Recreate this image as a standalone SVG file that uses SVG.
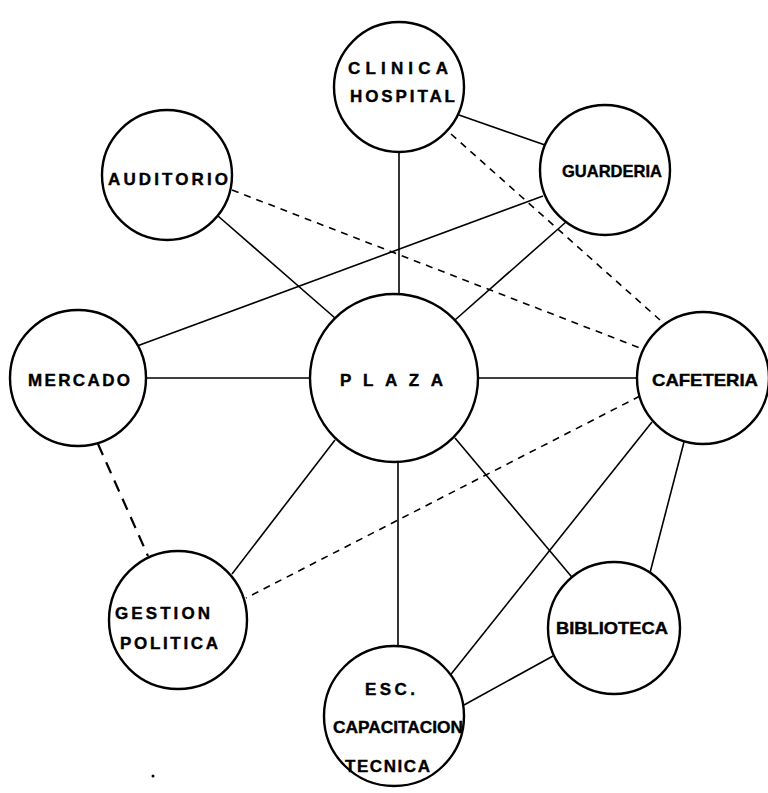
<svg xmlns="http://www.w3.org/2000/svg" width="768" height="793" viewBox="0 0 768 793">
<style>
.n{fill:#fff;stroke:#000;stroke-width:2.4}
.t{font-family:"Liberation Sans",Arial,sans-serif;font-weight:bold;font-size:17px;fill:#000;stroke:#000;stroke-width:0.4}
.s{stroke:#000;stroke-width:1.6;fill:none}
.d{stroke:#000;stroke-width:1.6;fill:none;stroke-dasharray:7 6}
.d2{stroke:#000;stroke-width:2.2;fill:none;stroke-dasharray:12 8}
</style>
<rect width="768" height="793" fill="#fff"/>
<g id="connectors">
<line class="s" x1="399" y1="152" x2="399" y2="295"/>
<line class="s" x1="459" y1="115" x2="545" y2="145"/>
<line class="s" x1="218" y1="216" x2="335" y2="318"/>
<line class="s" x1="543" y1="196" x2="137" y2="346"/>
<line class="s" x1="566" y1="222" x2="455" y2="320"/>
<line class="s" x1="146" y1="378" x2="310" y2="378"/>
<line class="s" x1="478" y1="378" x2="638" y2="378"/>
<line class="s" x1="335" y1="440" x2="232" y2="574"/>
<line class="s" x1="455" y1="438" x2="576" y2="582"/>
<line class="s" x1="398" y1="462" x2="398" y2="648"/>
<line class="s" x1="652" y1="422" x2="440" y2="688"/>
<line class="s" x1="684" y1="442" x2="645" y2="592"/>
<line class="s" x1="553" y1="656" x2="464" y2="705"/>
<line class="d" x1="232" y1="190" x2="640" y2="348"/>
<line class="d" x1="451" y1="134" x2="660" y2="320"/>
<line class="d2" x1="98" y1="444" x2="148" y2="556"/>
<line class="d" x1="640" y1="396" x2="246" y2="598"/>
</g>
<g id="clinica">
<circle class="n" cx="399" cy="87" r="65"/>
<text class="t" x="348" y="74" textLength="100" lengthAdjust="spacing">CLINICA</text>
<text class="t" x="350" y="102" textLength="105" lengthAdjust="spacing">HOSPITAL</text>
</g>
<g id="auditorio">
<circle class="n" cx="167" cy="175" r="65"/>
<text class="t" x="108" y="185" textLength="120" lengthAdjust="spacing">AUDITORIO</text>
</g>
<g id="guarderia">
<circle class="n" cx="605" cy="170" r="65"/>
<text class="t" x="562" y="177" textLength="100" lengthAdjust="spacingAndGlyphs">GUARDERIA</text>
</g>
<g id="mercado">
<circle class="n" cx="78" cy="378" r="68"/>
<text class="t" x="28" y="386" textLength="102" lengthAdjust="spacing">MERCADO</text>
</g>
<g id="plaza">
<circle class="n" cx="394" cy="378" r="84"/>
<text class="t" x="340" y="386" textLength="103" lengthAdjust="spacing">PLAZA</text>
</g>
<g id="cafeteria">
<circle class="n" cx="703" cy="378" r="66"/>
<text class="t" x="652" y="386" textLength="106" lengthAdjust="spacingAndGlyphs">CAFETERIA</text>
</g>
<g id="gestion">
<circle class="n" cx="178" cy="620" r="69"/>
<text class="t" x="115" y="619" textLength="95" lengthAdjust="spacing">GESTION</text>
<text class="t" x="120" y="649" textLength="98" lengthAdjust="spacing">POLITICA</text>
</g>
<g id="biblioteca">
<circle class="n" cx="614" cy="628" r="66"/>
<text class="t" x="556" y="634" textLength="112" lengthAdjust="spacingAndGlyphs">BIBLIOTECA</text>
</g>
<g id="esc">
<circle class="n" cx="394" cy="716" r="70"/>
<text class="t" x="365" y="695" textLength="50" lengthAdjust="spacing">ESC.</text>
<text class="t" x="333" y="733" textLength="130" lengthAdjust="spacingAndGlyphs">CAPACITACION</text>
<text class="t" x="345" y="772" textLength="85" lengthAdjust="spacing">TECNICA</text>
</g>
<circle cx="153" cy="776" r="1.5" fill="#000"/>
</svg>
